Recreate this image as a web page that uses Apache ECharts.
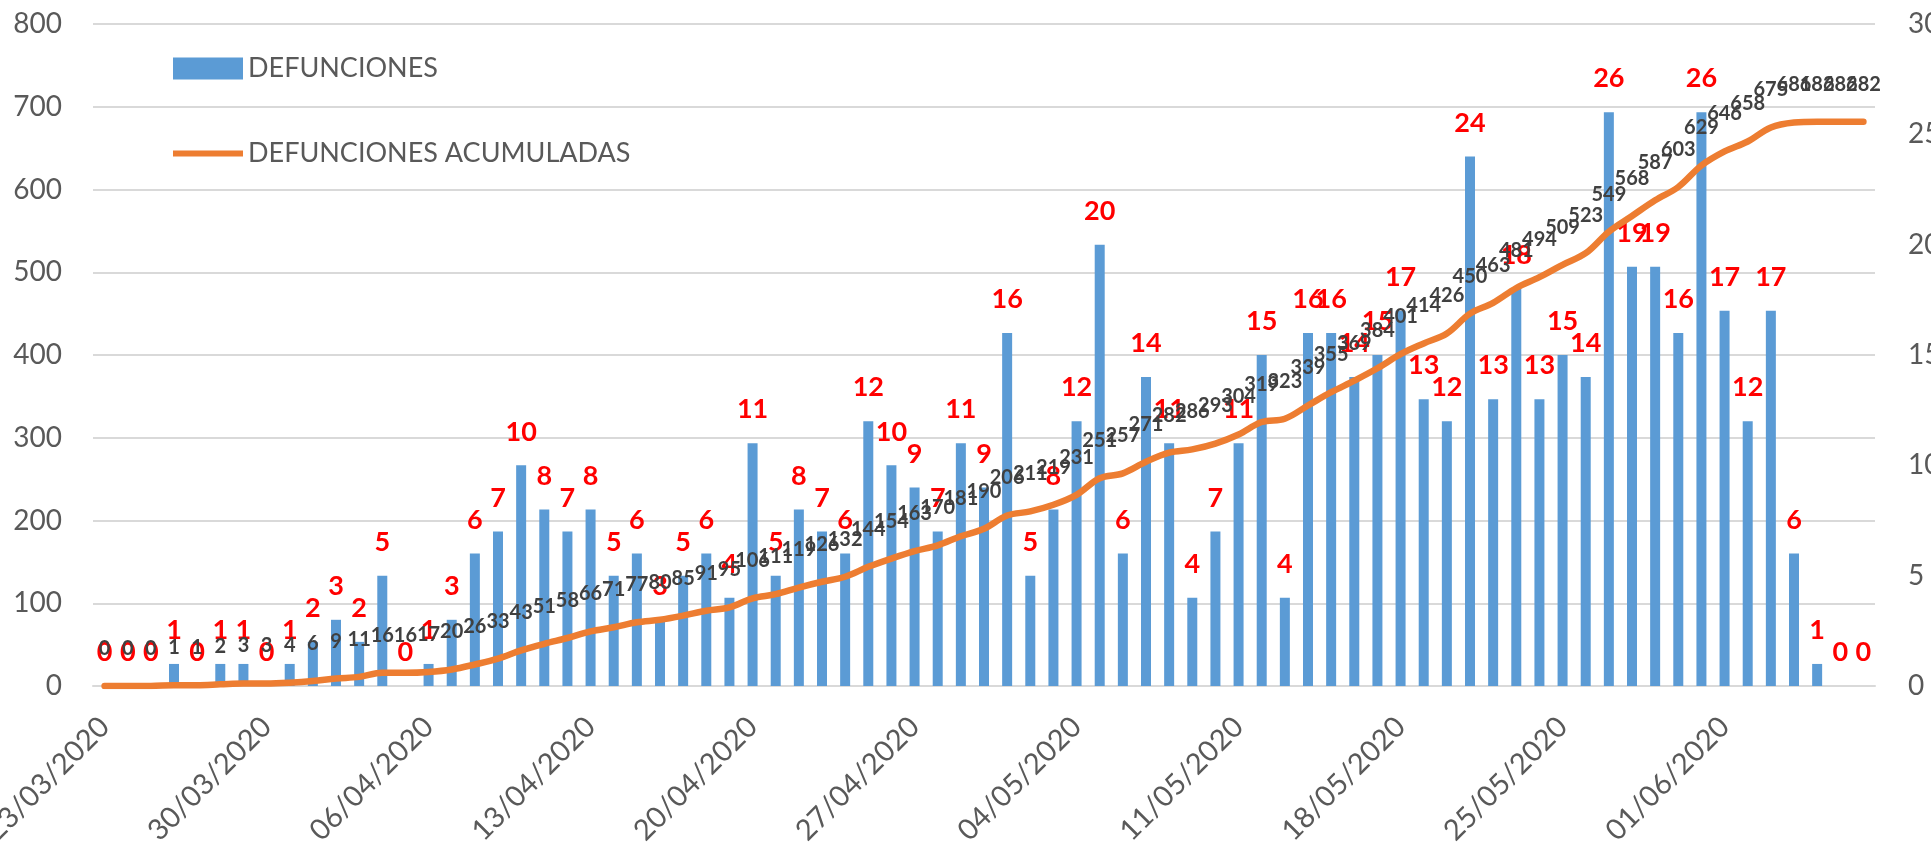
<!DOCTYPE html>
<html>
<head>
<meta charset="utf-8">
<script src="https://cdn.jsdelivr.net/npm/echarts@6/dist/echarts.min.js"></script>
<style>
  html, body { margin: 0; padding: 0; background: #fff; overflow: hidden; }
  #chart { width: 1931px; height: 849px; }
</style>
</head>
<body>
<div id="chart"></div>
<script>
const fechas = [
  '23/03/2020', '24/03/2020', '25/03/2020', '26/03/2020', '27/03/2020', '28/03/2020', '29/03/2020',
  '30/03/2020', '31/03/2020', '01/04/2020', '02/04/2020', '03/04/2020', '04/04/2020', '05/04/2020',
  '06/04/2020', '07/04/2020', '08/04/2020', '09/04/2020', '10/04/2020', '11/04/2020', '12/04/2020',
  '13/04/2020', '14/04/2020', '15/04/2020', '16/04/2020', '17/04/2020', '18/04/2020', '19/04/2020',
  '20/04/2020', '21/04/2020', '22/04/2020', '23/04/2020', '24/04/2020', '25/04/2020', '26/04/2020',
  '27/04/2020', '28/04/2020', '29/04/2020', '30/04/2020', '01/05/2020', '02/05/2020', '03/05/2020',
  '04/05/2020', '05/05/2020', '06/05/2020', '07/05/2020', '08/05/2020', '09/05/2020', '10/05/2020',
  '11/05/2020', '12/05/2020', '13/05/2020', '14/05/2020', '15/05/2020', '16/05/2020', '17/05/2020',
  '18/05/2020', '19/05/2020', '20/05/2020', '21/05/2020', '22/05/2020', '23/05/2020', '24/05/2020',
  '25/05/2020', '26/05/2020', '27/05/2020', '28/05/2020', '29/05/2020', '30/05/2020', '31/05/2020',
  '01/06/2020', '02/06/2020', '03/06/2020', '04/06/2020', '05/06/2020', '06/06/2020', '07/06/2020',
]

const defunciones = [
  0, 0, 0, 1, 0, 1, 1,
  0, 1, 2, 3, 2, 5, 0,
  1, 3, 6, 7, 10, 8, 7,
  8, 5, 6, 3, 5, 6, 4,
  11, 5, 8, 7, 6, 12, 10,
  9, 7, 11, 9, 16, 5, 8,
  12, 20, 6, 14, 11, 4, 7,
  11, 15, 4, 16, 16, 14, 15,
  17, 13, 12, 24, 13, 18, 13,
  15, 14, 26, 19, 19, 16, 26,
  17, 12, 17, 6, 1, 0, 0,
]

const acumuladas = [
  0, 0, 0, 1, 1, 2, 3,
  3, 4, 6, 9, 11, 16, 16,
  17, 20, 26, 33, 43, 51, 58,
  66, 71, 77, 80, 85, 91, 95,
  106, 111, 119, 126, 132, 144, 154,
  163, 170, 181, 190, 206, 211, 219,
  231, 251, 257, 271, 282, 286, 293,
  304, 319, 323, 339, 355, 369, 384,
  401, 414, 426, 450, 463, 481, 494,
  509, 523, 549, 568, 587, 603, 629,
  646, 658, 675, 681, 682, 682, 682,
]

const ticksIzq = { min: 0, max: 800, interval: 100 }
const ticksDer = { min: 0, max: 30, interval: 5 }

const font = 'Lato, "Open Sans", sans-serif'
const grey = '#595959'

const myChart = echarts.init(document.getElementById('chart'), null, {
  width: 1931,
  height: 849,
})

const option = {
  animation: false,
  textStyle: { fontFamily: font },
  grid: {
    left: 93,
    right: 56,
    top: 24,
    bottom: 163,
    containLabel: false,
    outerBoundsMode: 'none',
  },
  legend: {
    left: 168,
    top: 50,
    orient: 'vertical',
    itemGap: 58,
    itemWidth: 70,
    itemHeight: 22,
    textStyle: { color: grey, fontSize: 27, fontFamily: font },
    data: [
      { name: 'DEFUNCIONES', icon: 'rect' },
      {
        name: 'DEFUNCIONES ACUMULADAS',
        icon: 'path://M0,0 L70,0 L70,6 L0,6 Z',
        itemStyle: { color: '#ED7D31' },
      },
    ],
  },
  xAxis: {
    type: 'category',
    data: fechas,
    boundaryGap: true,
    axisLine: { lineStyle: { color: '#D9D9D9', width: 2 } },
    axisTick: {
      interval: 6,
      length: 11,
      lineStyle: { color: '#D9D9D9', width: 2 },
    },
    axisLabel: {
      interval: 6,
      rotate: 45,
      margin: 36,
      color: grey,
      fontSize: 29,
      fontFamily: font,
    },
  },
  yAxis: [
    {
      type: 'value',
      min: ticksIzq.min,
      max: ticksIzq.max,
      interval: ticksIzq.interval,
      axisLine: { show: false },
      axisTick: { show: false },
      axisLabel: { color: grey, fontSize: 28, margin: 31, fontFamily: font },
      splitLine: { lineStyle: { color: '#D9D9D9', width: 2 } },
    },
    {
      type: 'value',
      min: ticksDer.min,
      max: ticksDer.max,
      interval: ticksDer.interval,
      axisLine: { show: false },
      axisTick: { show: false },
      axisLabel: { color: grey, fontSize: 28, margin: 33, fontFamily: font },
      splitLine: { show: false },
    },
  ],
  series: [
    {
      name: 'DEFUNCIONES',
      type: 'bar',
      yAxisIndex: 1,
      data: defunciones,
      barWidth: 10,
      itemStyle: { color: '#5B9BD5' },
      z: 2,
      label: {
        show: true,
        position: 'top',
        distance: 20,
        color: '#FF0000',
        fontWeight: 'bold',
        fontSize: 27,
        fontFamily: font,
      },
    },
    {
      name: 'DEFUNCIONES ACUMULADAS',
      type: 'line',
      yAxisIndex: 0,
      data: acumuladas,
      smooth: 0.35,
      symbol: 'circle',
      symbolSize: 1,
      showSymbol: true,
      lineStyle: { color: '#ED7D31', width: 6.5, cap: 'round', join: 'round' },
      itemStyle: { color: '#ED7D31' },
      z: 3,
      label: {
        show: true,
        position: 'top',
        distance: 27,
        color: '#404040',
        fontWeight: 'bold',
        fontSize: 20,
        fontFamily: font,
      },
    },
  ],
}

option && myChart.setOption(option)
</script>
</body>
</html>
